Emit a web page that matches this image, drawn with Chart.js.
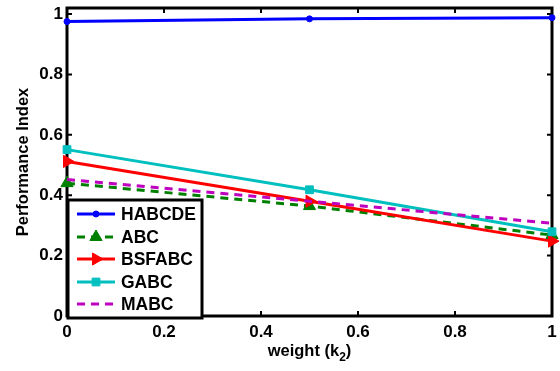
<!DOCTYPE html>
<html>
<head>
<meta charset="utf-8">
<style>
  html, body { margin: 0; padding: 0; background: #fff; }
  #wrap { width: 560px; height: 371px; position: relative; overflow: hidden; }
</style>
<script src="https://cdn.jsdelivr.net/npm/chart.js@4.4.1/dist/chart.umd.min.js"></script>
</head>
<body>
<div id="wrap"><canvas id="c" width="560" height="371"></canvas></div>
<script>
// weight k2 on the x axis, performance index per algorithm
const weights = [0, 0.5, 1];
const habcde  = [0.975, 0.984, 0.988];
const abc     = [0.440, 0.364, 0.268];
const bsfabc  = [0.512, 0.380, 0.248];
const gabc    = [0.551, 0.418, 0.279];
const mabc    = [0.452, 0.380, 0.307];
const seriesNames = ['HABCDE', 'ABC', 'BSFABC', 'GABC', 'MABC'];
const xTicks = [0, 0.2, 0.4, 0.6, 0.8, 1];
const yTicks = [0, 0.2, 0.4, 0.6, 0.8, 1];

const FONT = "'Liberation Sans', Arial, Helvetica, sans-serif";

const toPoints = vals => weights.map((w, i) => ({ x: w, y: vals[i] }));

const styles = [
  { color: '#0000FF', dash: [],     pointStyle: 'circle',   radius: 3,   rotation: 0 },
  { color: '#008000', dash: [8, 6], pointStyle: 'triangle', radius: 7,   rotation: 0 },
  { color: '#FF0000', dash: [],     pointStyle: 'triangle', radius: 7,   rotation: 90 },
  { color: '#00BFBF', dash: [],     pointStyle: 'rect',     radius: 5.5, rotation: 0 },
  { color: '#BF00BF', dash: [8, 6], pointStyle: false,      radius: 0,   rotation: 0 }
];
const values = [habcde, abc, bsfabc, gabc, mabc];

const datasets = seriesNames.map((name, i) => ({
  label: name,
  data: toPoints(values[i]),
  borderColor: styles[i].color,
  backgroundColor: styles[i].color,
  borderWidth: 3,
  borderDash: styles[i].dash,
  pointStyle: styles[i].pointStyle,
  pointRadius: styles[i].radius,
  pointRotation: styles[i].rotation,
  pointBorderWidth: 1,
  pointBackgroundColor: styles[i].color,
  pointBorderColor: styles[i].color,
  tension: 0,
  clip: false,
  order: seriesNames.length - i
}));

const TITLE_SIZE = 16.5;

const frame = {
  id: 'frame',
  beforeDatasetsDraw(chart) {
    const { ctx, chartArea: a, scales: { x, y } } = chart;
    ctx.save();
    ctx.strokeStyle = '#000';
    ctx.lineWidth = 3;
    ctx.strokeRect(a.left, a.top, a.right - a.left, a.bottom - a.top);
    ctx.lineWidth = 2;
    ctx.beginPath();
    xTicks.forEach(v => {
      const px = x.getPixelForValue(v);
      ctx.moveTo(px, a.bottom); ctx.lineTo(px, a.bottom - 5);
      ctx.moveTo(px, a.top);    ctx.lineTo(px, a.top + 5);
    });
    yTicks.forEach(v => {
      const py = y.getPixelForValue(v);
      ctx.moveTo(a.left, py);  ctx.lineTo(a.left + 5, py);
      ctx.moveTo(a.right, py); ctx.lineTo(a.right - 5, py);
    });
    ctx.stroke();
    ctx.restore();
  },
  afterDraw(chart) {
    const { ctx, chartArea: a } = chart;
    ctx.save();

    // axis titles
    ctx.fillStyle = '#000';
    ctx.textBaseline = 'alphabetic';
    const main = 'weight (k';
    const sub = '2';
    const close = ')';
    const big = 'bold ' + TITLE_SIZE + 'px ' + FONT;
    const small = 'bold 12px ' + FONT;
    ctx.font = big;
    const wMain = ctx.measureText(main).width;
    const wClose = ctx.measureText(close).width;
    ctx.font = small;
    const wSub = ctx.measureText(sub).width;
    const total = wMain + wSub + wClose;
    const tx = (a.left + a.right) / 2 - total / 2;
    const base = 356;
    ctx.textAlign = 'left';
    ctx.font = big;
    ctx.fillText(main, tx, base);
    ctx.font = small;
    ctx.fillText(sub, tx + wMain, base + 5);
    ctx.font = big;
    ctx.fillText(close, tx + wMain + wSub, base);

    ctx.save();
    ctx.translate(28, (a.top + a.bottom) / 2);
    ctx.rotate(-Math.PI / 2);
    ctx.textAlign = 'center';
    ctx.font = big;
    ctx.fillText('Performance Index', 0, 0);
    ctx.restore();

    // legend box
    const bx = 68, by = 200, bw = 134, bh = 118;
    ctx.fillStyle = '#fff';
    ctx.fillRect(bx, by, bw, bh);
    ctx.strokeStyle = '#000';
    ctx.lineWidth = 3;
    ctx.strokeRect(bx, by, bw, bh);

    const rowY = [214, 237, 259, 282, 304];
    chart.data.datasets.forEach((ds, i) => {
      const ry = rowY[i];
      ctx.save();
      ctx.strokeStyle = ds.borderColor;
      ctx.lineWidth = 3;
      ctx.setLineDash(ds.borderDash);
      ctx.beginPath();
      ctx.moveTo(77, ry);
      ctx.lineTo(115, ry);
      ctx.stroke();
      ctx.setLineDash([]);
      if (ds.pointStyle) {
        ctx.fillStyle = ds.borderColor;
        ctx.strokeStyle = ds.borderColor;
        ctx.lineWidth = 1;
        Chart.helpers.drawPoint(ctx, {
          pointStyle: ds.pointStyle,
          radius: ds.pointRadius,
          rotation: ds.pointRotation,
          borderWidth: 1
        }, 96, ry);
      }
      ctx.restore();
      ctx.fillStyle = '#000';
      ctx.font = 'bold 17.5px ' + FONT;
      ctx.textAlign = 'left';
      ctx.textBaseline = 'middle';
      ctx.fillText(ds.label, 121, ry + 1);
    });
    ctx.restore();
  }
};

const tickFont = { family: FONT, size: 17, weight: 'bold' };

new Chart(document.getElementById('c'), {
  type: 'line',
  data: { datasets },
  options: {
    responsive: false,
    animation: false,
    devicePixelRatio: 1,
    layout: { padding: { top: 5, right: 1.5, left: 0, bottom: 0 } },
    plugins: { legend: { display: false }, tooltip: { enabled: false } },
    scales: {
      x: {
        type: 'linear',
        min: 0,
        max: 1,
        afterBuildTicks: s => { s.ticks = xTicks.map(v => ({ value: v })); },
        afterFit: s => { s.height = 55; s.paddingLeft = 0; s.paddingRight = 0; },
        ticks: {
          color: '#000', font: tickFont, padding: 6, maxRotation: 0, autoSkip: false,
          callback: v => String(v)
        },
        grid: { display: false, drawTicks: false },
        border: { display: false }
      },
      y: {
        type: 'linear',
        min: 0,
        max: 1.02,
        afterBuildTicks: s => { s.ticks = yTicks.map(v => ({ value: v })); },
        afterFit: s => { s.width = 67; s.paddingTop = 0; s.paddingBottom = 0; },
        ticks: {
          color: '#000', font: tickFont, padding: 4, autoSkip: false,
          callback: v => String(v)
        },
        grid: { display: false, drawTicks: false },
        border: { display: false }
      }
    }
  },
  plugins: [frame]
});
</script>
</body>
</html>
